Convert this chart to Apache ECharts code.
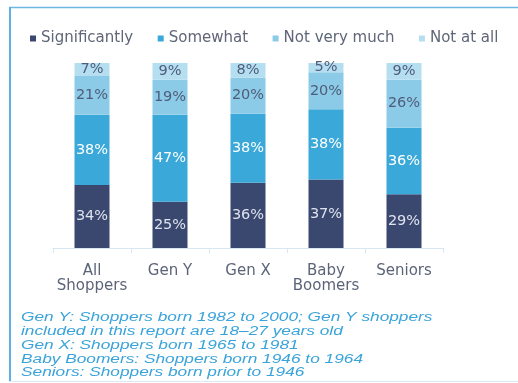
<!DOCTYPE html>
<html>
<head>
<meta charset="utf-8">
<script src="https://cdn.jsdelivr.net/npm/echarts@6/dist/echarts.min.js"></script>
<style>
  html, body { margin: 0; padding: 0; background: #ffffff; }
  #chart { width: 518px; height: 383px; }
</style>
</head>
<body>
<div id="chart"></div>
<script>
// Shopper generations and how much each group has changed its shopping
const categories = ['All\nShoppers', 'Gen Y', 'Gen X', 'Baby\nBoomers', 'Seniors'];
const seriesNames = ['Significantly', 'Somewhat', 'Not very much', 'Not at all'];
const significantly = [34, 25, 36, 37, 29];
const somewhat = [38, 47, 38, 38, 36];
const notVeryMuch = [21, 19, 20, 20, 26];
const notAtAll = [7, 9, 8, 5, 9];
const footnotes = [
  'Gen Y: Shoppers born 1982 to 2000; Gen Y shoppers',
  'included in this report are 18\u201327 years old',
  'Gen X: Shoppers born 1965 to 1981',
  'Baby Boomers: Shoppers born 1946 to 1964',
  'Seniors: Shoppers born prior to 1946'
];

const seriesValues = [significantly, somewhat, notVeryMuch, notAtAll];
const colors = ['#3a4870', '#3aa8d8', '#8ccbe7', '#b5dff1'];
const labelColors = ['#dfe3ee', '#ffffff', '#4f5d7a', '#4f5d7a'];

// Each column is drawn as shares of its own total so every column fills the full height
const totals = categories.map((_, i) => seriesValues.reduce((s, arr) => s + arr[i], 0));

const chart = echarts.init(document.getElementById('chart'), null, { renderer: 'canvas' });

const series = seriesValues.map((vals, k) => ({
  name: seriesNames[k],
  type: 'bar',
  stack: 'total',
  barWidth: 35,
  data: vals.map((v, i) => v / totals[i] * 100),
  itemStyle: { color: colors[k] },
  label: {
    show: true,
    position: 'inside',
    color: labelColors[k],
    fontFamily: 'DejaVu Sans',
    fontSize: 14.5,
    formatter: p => vals[p.dataIndex] + '%'
  },
  emphasis: { disabled: true }
}));

chart.setOption({
  animation: false,
  backgroundColor: '#ffffff',
  color: colors,
  legend: {
    data: seriesNames,
    left: 25,
    top: 26,
    icon: 'rect',
    itemWidth: 6,
    itemHeight: 6,
    itemGap: 24.5,
    textStyle: { color: '#5e6678', fontFamily: 'DejaVu Sans', fontSize: 15 }
  },
  grid: { left: 53, right: 75, top: 63, bottom: 135, containLabel: false },
  xAxis: {
    type: 'category',
    data: categories,
    axisLine: { lineStyle: { color: '#d6e7f3', width: 1 } },
    axisTick: { show: true, length: 5, lineStyle: { color: '#d6e7f3' } },
    axisLabel: {
      interval: 0,
      color: '#5c6478',
      fontFamily: 'DejaVu Sans',
      fontSize: 15,
      lineHeight: 15,
      margin: 16
    }
  },
  yAxis: {
    type: 'value',
    min: 0,
    max: 100,
    show: false
  },
  series: series,
  graphic: [
    // panel frame
    { type: 'line', shape: { x1: 9, y1: 7.5, x2: 518, y2: 7.5 }, style: { stroke: '#6cb8e2', lineWidth: 1.5 }, silent: true },
    { type: 'line', shape: { x1: 10, y1: 7, x2: 10, y2: 382 }, style: { stroke: '#5cb2e0', lineWidth: 2 }, silent: true },
    { type: 'line', shape: { x1: 9, y1: 381.5, x2: 518, y2: 381.5 }, style: { stroke: '#d8ebf7', lineWidth: 1 }, silent: true },
    // generation definitions
    {
      type: 'text',
      x: 21,
      y: 311,
      scaleX: 1.44,
      silent: true,
      style: {
        text: footnotes.join('\n'),
        font: 'italic 12px "Liberation Sans", Arial, sans-serif',
        fill: '#3aa3da',
        lineHeight: 13.8
      }
    }
  ]
});
</script>
</body>
</html>
